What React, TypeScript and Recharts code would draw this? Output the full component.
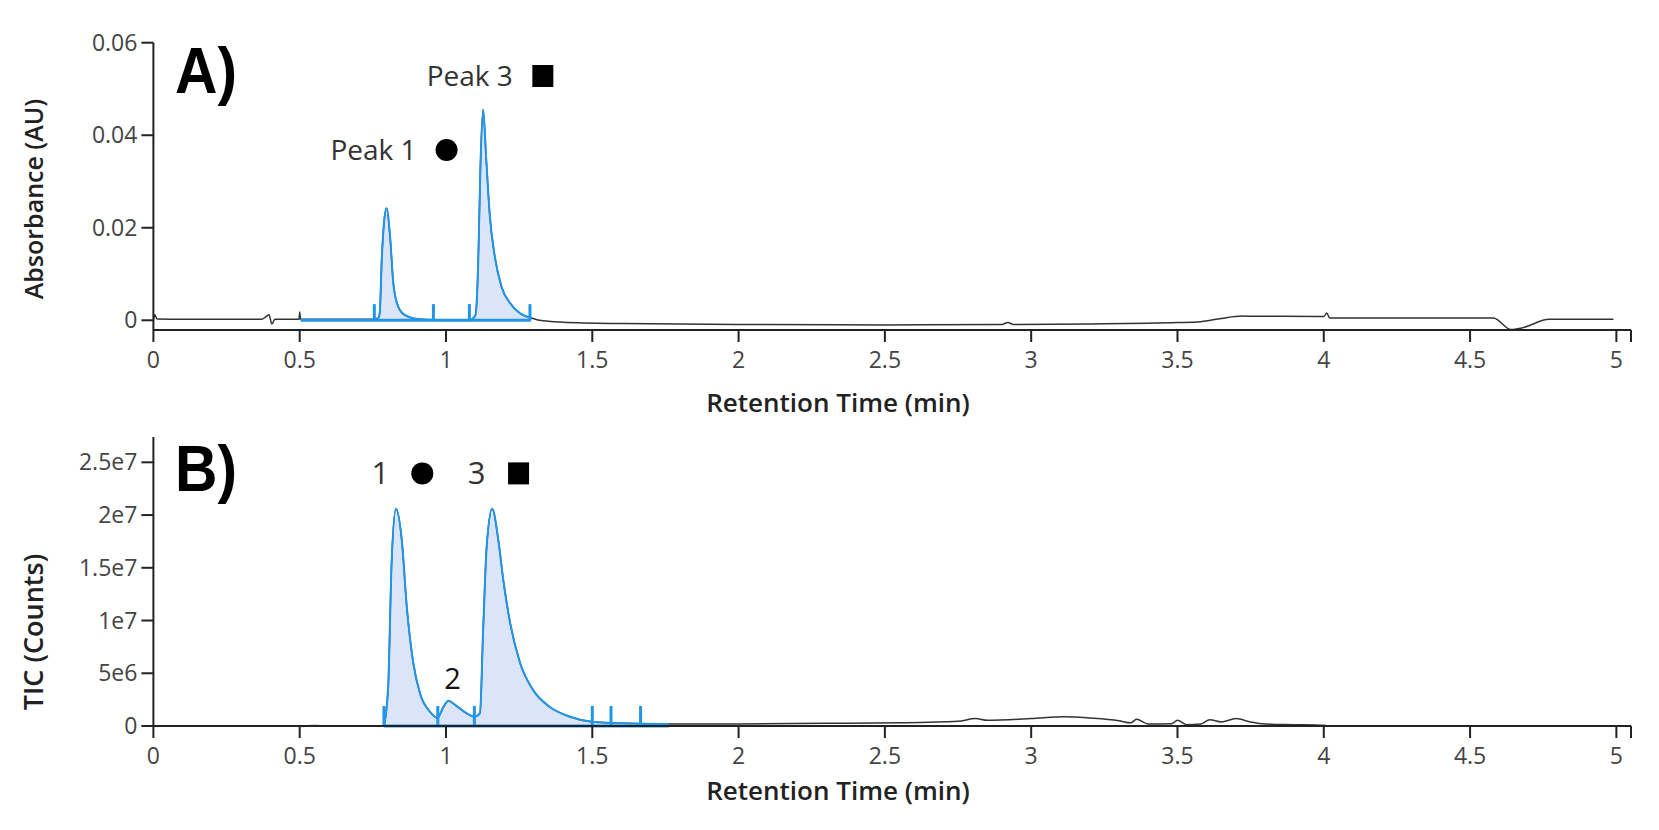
import { ComposedChart, Line, Area, XAxis, YAxis, ReferenceLine, ReferenceDot } from 'recharts';

// shared time axis (min); the last value is the bare end tick of the axis
const timeTicks = [0, 0.5, 1, 1.5, 2, 2.5, 3, 3.5, 4, 4.5, 5, 5.05];
const timeTickLabels = ['0', '0.5', '1', '1.5', '2', '2.5', '3', '3.5', '4', '4.5', '5', ''];

// A) UV absorbance
const uvTicks = [0, 0.02, 0.04, 0.06];
const uvTickLabels = ['0', '0.02', '0.04', '0.06'];
const uvTime = [
    0, 0.005, 0.012, 0.1, 0.2, 0.3, 0.37, 0.385, 0.395, 0.405, 0.415, 0.45, 0.498, 0.5, 0.503,
    0.6, 0.7, 0.755, 0.77, 0.774, 0.78, 0.788, 0.797, 0.809, 0.82, 0.837, 0.86, 0.911, 0.957,
    1.0, 1.08, 1.1, 1.105, 1.11, 1.118, 1.127, 1.137, 1.15, 1.167, 1.19, 1.219, 1.253, 1.287,
    1.32, 1.4, 1.6, 2.0, 2.5, 2.9, 2.92, 2.94, 3.2, 3.5, 3.58, 3.65, 3.72, 4.0, 4.01, 4.02,
    4.58, 4.64, 4.68, 4.77, 4.99,
];
const uvAbs = [
    0, 0.0012, 0.0003, 0.0002, 0.0002, 0.0002, 0.0002, 0.0008, 0.0012, -0.0008, 0.0002, 0.0002, 0.0002, 0.0018, 0.0002,
    0.0002, 0.0002, 0.0002, 0.0006, 0.002, 0.0124, 0.021, 0.0242, 0.018, 0.008, 0.0029, 0.0011, 0.0002, 0.0001,
    0, 0, 0.001, 0.004, 0.0124, 0.034, 0.0455, 0.0354, 0.0224, 0.0137, 0.0072, 0.0037, 0.0015, 0.0006,
    0, -0.0004, -0.0007, -0.0009, -0.001, -0.0009, -0.0005, -0.0009, -0.0008, -0.0005, -0.0003, 0.0004, 0.0009, 0.0008, 0.0016, 0.0005,
    0.0005, -0.002, -0.0016, 0.0002, 0.0002,
];
const uvPeakWindow = [0.755, 1.287];
const uvBaseline = [0.503, 1.29];
const uvMarkers = [0.755, 0.957, 1.08, 1.287];
const uvMarkerHeight = 0.0035;
const uvLabels = ['Peak 1', 'Peak 3'];
const uvLabelTime = [1.002, 1.331];
const uvLabelAbs = [0.0368, 0.0528];
const uvLabelShape = ['circle', 'square'];

// B) total ion current
const ticTicks = [0, 5e6, 1e7, 1.5e7, 2e7, 2.5e7];
const ticTickLabels = ['0', '5e6', '1e7', '1.5e7', '2e7', '2.5e7'];
const ticTime = [
    0, 0.5, 0.55, 0.6, 0.78, 0.788, 0.795, 0.803, 0.814, 0.829, 0.849, 0.866, 0.888, 0.911, 0.945,
    0.971, 0.991, 1.008, 1.031, 1.071, 1.097, 1.116, 1.127, 1.139, 1.158, 1.179, 1.196, 1.219, 1.253,
    1.298, 1.355, 1.424, 1.498, 1.6, 1.76, 2.0, 2.3, 2.55, 2.75, 2.81, 2.85, 3.0, 3.114, 3.2, 3.3,
    3.34, 3.36, 3.4, 3.48, 3.5, 3.53, 3.58, 3.61, 3.65, 3.7, 3.75, 3.8, 3.9, 4.0, 4.02, 4.99,
];
const ticCounts = [
    0, 0, 4e4, 1e4, 1e4, 1e5, 1.2e6, 4.1e6, 1.54e7, 2.06e7, 1.76e7, 1.13e7, 6e6, 3.1e6, 1.36e6,
    7.6e5, 1.8e6, 2.4e6, 2e6, 1.2e6, 8.8e5, 1.2e6, 9.1e6, 1.7e7, 2.06e7, 1.76e7, 1.38e7, 9.8e6, 6e6,
    3.4e6, 1.8e6, 8.8e5, 4e5, 2.5e5, 1.8e5, 2e5, 2.5e5, 3e5, 4.4e5, 7e5, 5.4e5, 7e5, 8.8e5, 7.6e5, 5e5,
    3e5, 6.3e5, 1.9e5, 2.2e5, 5.4e5, 1.3e5, 2e5, 6e5, 3.8e5, 7e5, 3.8e5, 1.9e5, 1.3e5, 6e4, 0, 0,
];
const ticPeakWindow = [0.788, 1.76];
const ticBaseline = [0.788, 1.762];
const ticMarkers = [0.788, 0.972, 1.097, 1.5, 1.564, 1.665];
const ticMarkerHeight = 1.9e6;
const ticLabels = ['1', '3'];
const ticLabelTime = [0.919, 1.248];
const ticLabelCounts = [2.395e7, 2.395e7];
const ticLabelShape = ['circle', 'square'];
const ticMinorLabel = '2';
const ticMinorTime = 1.022;
const ticMinorCounts = 4.47e6;

const uvData = uvTime.map((t, i) => ({ t, v: uvAbs[i] }));
const uvPeakData = uvData.filter(d => d.t >= uvPeakWindow[0] && d.t <= uvPeakWindow[1]);
const ticData = ticTime.map((t, i) => ({ t, v: ticCounts[i] }));
const ticPeakData = ticData.filter(d => d.t >= ticPeakWindow[0] && d.t <= ticPeakWindow[1]);

const BLUE = '#2196e8';
const FILL = '#dbe5fa';
const INK = '#222';
const FONT = "'Open Sans', sans-serif";

const tickStyle = { fontSize: 23, fill: '#444', fontFamily: FONT };

function markerShape(kind: string) {
    return (props: any) => {
        const { cx, cy } = props;
        if (kind === 'circle') {
            return <circle cx={cx} cy={cy} r={11} fill="#000" />;
        }
        return <rect x={cx - 10.5} y={cy - 11} width={21} height={22} fill="#000" />;
    };
}

function timeAxis() {
    return (
        <XAxis
            dataKey="t"
            type="number"
            domain={[0, 5.05]}
            ticks={timeTicks}
            interval={0}
            allowDataOverflow
            height={40}
            tickSize={12}
            tickMargin={10}
            tick={tickStyle}
            tickFormatter={(v: number) => timeTickLabels[timeTicks.indexOf(v)] ?? ''}
            axisLine={{ stroke: INK, strokeWidth: 2 }}
            tickLine={{ stroke: INK, strokeWidth: 2 }}
        />
    );
}

export default function App() {
    return (
        <div style={{ position: 'absolute', left: 0, top: 0, width: 1659, height: 830, background: '#fff', fontFamily: FONT }}>
            <div style={{ position: 'absolute', left: 0, top: 0 }}>
                <ComposedChart width={1659} height={415} data={uvData} margin={{ top: 42.7, right: 28, left: 73.4, bottom: 45 }}>
                    {timeAxis()}
                    <YAxis
                        type="number"
                        domain={[-0.0021, 0.06]}
                        ticks={uvTicks}
                        interval={0}
                        allowDataOverflow
                        width={80}
                        tickSize={12}
                        tickMargin={4}
                        tick={tickStyle}
                        tickFormatter={(v: number) => uvTickLabels[uvTicks.indexOf(v)] ?? ''}
                        axisLine={{ stroke: INK, strokeWidth: 2 }}
                        tickLine={{ stroke: INK, strokeWidth: 2 }}
                    />
                    <Area type="monotone" data={uvPeakData} dataKey="v" baseValue={0} stroke="none" fill={FILL} fillOpacity={1} isAnimationActive={false} />
                    <Line type="monotone" dataKey="v" stroke="#333" strokeWidth={1.5} dot={false} isAnimationActive={false} />
                    <Line type="monotone" data={uvPeakData} dataKey="v" stroke={BLUE} strokeWidth={2} dot={false} isAnimationActive={false} />
                    <ReferenceLine segment={[{ x: uvBaseline[0], y: 0 }, { x: uvBaseline[1], y: 0 }]} stroke={BLUE} strokeWidth={3} />
                    {uvMarkers.map(m => (
                        <ReferenceLine key={m} segment={[{ x: m, y: 0 }, { x: m, y: uvMarkerHeight }]} stroke={BLUE} strokeWidth={3} />
                    ))}
                    {uvLabels.map((name, i) => (
                        <ReferenceDot
                            key={name}
                            x={uvLabelTime[i]}
                            y={uvLabelAbs[i]}
                            r={11}
                            shape={markerShape(uvLabelShape[i])}
                            label={{ value: name, position: 'left', offset: 19, fontSize: 28, fill: '#333', fontFamily: FONT }}
                        />
                    ))}
                </ComposedChart>
            </div>
            <div style={{ position: 'absolute', left: 0, top: 415 }}>
                <ComposedChart width={1659} height={415} data={ticData} margin={{ top: 22, right: 28, left: 73.4, bottom: 64 }}>
                    {timeAxis()}
                    <YAxis
                        type="number"
                        domain={[0, 2.74e7]}
                        ticks={ticTicks}
                        interval={0}
                        allowDataOverflow
                        width={80}
                        tickSize={12}
                        tickMargin={4}
                        tick={tickStyle}
                        tickFormatter={(v: number) => ticTickLabels[ticTicks.indexOf(v)] ?? ''}
                        axisLine={{ stroke: INK, strokeWidth: 2 }}
                        tickLine={{ stroke: INK, strokeWidth: 2 }}
                    />
                    <Area type="monotone" data={ticPeakData} dataKey="v" baseValue={0} stroke="none" fill={FILL} fillOpacity={1} isAnimationActive={false} />
                    <Line type="monotone" dataKey="v" stroke="#333" strokeWidth={1.5} dot={false} isAnimationActive={false} />
                    <Line type="monotone" data={ticPeakData} dataKey="v" stroke={BLUE} strokeWidth={2} dot={false} isAnimationActive={false} />
                    <ReferenceLine segment={[{ x: ticBaseline[0], y: 0 }, { x: ticBaseline[1], y: 0 }]} stroke={BLUE} strokeWidth={3} />
                    {ticMarkers.map(m => (
                        <ReferenceLine key={m} segment={[{ x: m, y: 0 }, { x: m, y: ticMarkerHeight }]} stroke={BLUE} strokeWidth={3} />
                    ))}
                    {ticLabels.map((name, i) => (
                        <ReferenceDot
                            key={name}
                            x={ticLabelTime[i]}
                            y={ticLabelCounts[i]}
                            r={11}
                            shape={markerShape(ticLabelShape[i])}
                            label={{ value: name, position: 'left', offset: 22, fontSize: 31, fill: '#333', fontFamily: FONT }}
                        />
                    ))}
                    <ReferenceDot
                        x={ticMinorTime}
                        y={ticMinorCounts}
                        r={1}
                        shape={() => <g />}
                        label={{ value: ticMinorLabel, position: 'center', fontSize: 29, fill: '#111', fontFamily: FONT }}
                    />
                </ComposedChart>
            </div>
            <svg width={1659} height={830} style={{ position: 'absolute', left: 0, top: 0, pointerEvents: 'none' }}>
                <g fontFamily="'Liberation Sans', Arial, sans-serif" fontWeight={700} fontSize={65} fill="#000">
                    <text x={175} y={93} textLength={62} lengthAdjust="spacingAndGlyphs">A)</text>
                    <text x={175} y={491} textLength={62} lengthAdjust="spacingAndGlyphs">B)</text>
                </g>
                <g fontFamily={FONT} fontWeight={600} fill={INK}>
                    <text x={838} y={412} fontSize={26} textAnchor="middle">Retention Time (min)</text>
                    <text x={838} y={800} fontSize={26} textAnchor="middle">Retention Time (min)</text>
                    <text x={43} y={199} fontSize={25} textAnchor="middle" transform="rotate(-90 43 199)">Absorbance (AU)</text>
                    <text x={43} y={632} fontSize={27} textAnchor="middle" transform="rotate(-90 43 632)">TIC (Counts)</text>
                </g>
            </svg>
        </div>
    );
}
